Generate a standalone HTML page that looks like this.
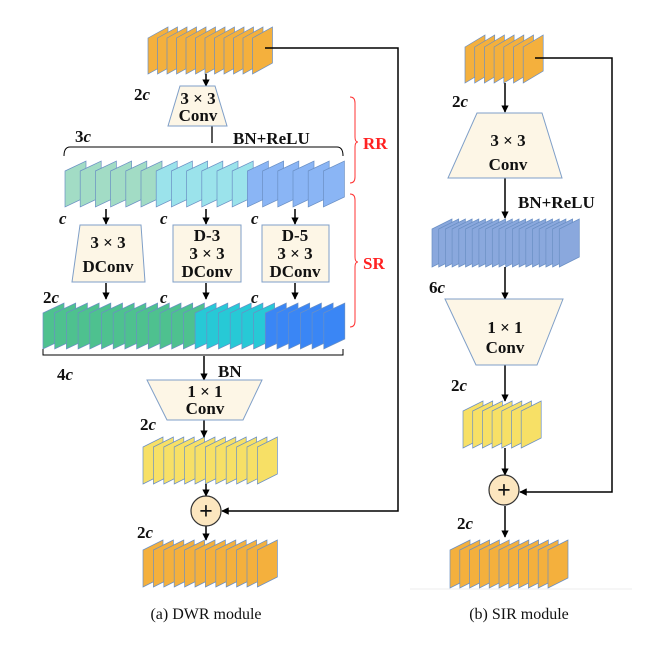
<!DOCTYPE html>
<html><head><meta charset="utf-8"><style>
html,body{margin:0;padding:0;background:#fff;width:648px;height:650px;overflow:hidden}
svg{display:block}
text{font-family:"Liberation Serif",serif;font-weight:bold;fill:#111}
</style></head><body>
<svg id="s" width="648" height="650" viewBox="0 0 648 650" xmlns="http://www.w3.org/2000/svg">
<defs><marker id="a" viewBox="0 0 10 10" refX="9" refY="5" markerWidth="5" markerHeight="5" orient="auto"><path d="M0,0L10,5L0,10z" fill="#000"/></marker></defs>
<g id="sheets"></g>
<g fill="none" stroke="#000" stroke-width="1.5">
<line x1="206" y1="74" x2="206" y2="86" marker-end="url(#a)"/>
<line x1="212" y1="126" x2="212" y2="143" stroke-width="1.3"/>
<path d="M64,156 Q64,147 70,147 L337,147 Q343,147 343,156" stroke-width="1"/>
<line x1="106" y1="209" x2="106" y2="224" marker-end="url(#a)"/>
<line x1="206" y1="209" x2="206" y2="224" marker-end="url(#a)"/>
<line x1="295" y1="209" x2="295" y2="224" marker-end="url(#a)"/>
<line x1="106" y1="283" x2="106" y2="299" marker-end="url(#a)"/>
<line x1="206" y1="283" x2="206" y2="299" marker-end="url(#a)"/>
<line x1="295" y1="283" x2="295" y2="299" marker-end="url(#a)"/>
<path d="M43,349 L43,355 L343,355 L343,349" stroke-width="1"/>
<line x1="204" y1="356" x2="204" y2="380" marker-end="url(#a)"/>
<line x1="204" y1="420" x2="204" y2="437" marker-end="url(#a)"/>
<line x1="206" y1="484" x2="206" y2="496" marker-end="url(#a)"/>
<line x1="206" y1="526" x2="206" y2="540" marker-end="url(#a)"/>
<path d="M265,48 L398,48 L398,511 L222,511" marker-end="url(#a)"/>
<line x1="505" y1="83" x2="505" y2="112" marker-end="url(#a)"/>
<line x1="505" y1="178" x2="505" y2="218" marker-end="url(#a)"/>
<line x1="505" y1="267" x2="505" y2="299" marker-end="url(#a)"/>
<line x1="505" y1="365" x2="505" y2="401" marker-end="url(#a)"/>
<line x1="505" y1="448" x2="505" y2="475" marker-end="url(#a)"/>
<line x1="505" y1="506" x2="505" y2="537" marker-end="url(#a)"/>
<path d="M535,58 L612,58 L612,492 L520,492" marker-end="url(#a)"/>
</g>
<g fill="none" stroke="#f33" stroke-width="1">
<path d="M350,97 Q355,97 355,103 L355,137 Q355,142 358,142 Q355,142 355,147 L355,177 Q355,183 350,183"/>
<path d="M350,194 Q355,194 355,200 L355,257 Q355,262 358,262 Q355,262 355,267 L355,321 Q355,327 350,327"/>
</g>
<line x1="410" y1="589" x2="632" y2="589" stroke="#eee" stroke-width="1"/>
<g fill="#fdf6e6" stroke="#7f9fc8" stroke-width="1">
<polygon points="180,86 215,86 227,126 168,126"/>
<polygon points="80,225 141,225 145,282 72,282"/>
<rect x="173" y="225" width="68" height="57"/>
<rect x="262" y="225" width="67" height="57"/>
<polygon points="147,380 262,380 243,420 167,420"/>
<polygon points="477,113 542,113 562,178 448,178"/>
<polygon points="445,299 563,299 537,365 476,365"/>
</g>
<g fill="#fce6bf" stroke="#333" stroke-width="1.2">
<circle cx="206" cy="511" r="15"/><circle cx="504" cy="490" r="15"/>
</g>
<g font-size="24" text-anchor="middle"><text x="206" y="519">+</text><text x="504" y="498">+</text></g>
<g font-size="17" text-anchor="middle">
<text x="198" y="104">3 × 3</text><text x="198" y="121">Conv</text>
<text x="108" y="248">3 × 3</text><text x="108" y="272">DConv</text>
<text x="207" y="241">D-3</text><text x="207" y="259">3 × 3</text><text x="207" y="277">DConv</text>
<text x="295" y="241">D-5</text><text x="295" y="259">3 × 3</text><text x="295" y="277">DConv</text>
<text x="205" y="397">1 × 1</text><text x="205" y="414">Conv</text>
<text x="508" y="146">3 × 3</text><text x="508" y="170">Conv</text>
<text x="505" y="333">1 × 1</text><text x="505" y="353">Conv</text>
</g>
<g font-size="17">
<text x="134" y="100">2<tspan font-style="italic">c</tspan></text>
<text x="75" y="142">3<tspan font-style="italic">c</tspan></text>
<text x="233" y="144">BN+ReLU</text>
<text x="59" y="224" font-style="italic">c</text>
<text x="160" y="224" font-style="italic">c</text>
<text x="251" y="224" font-style="italic">c</text>
<text x="43" y="303">2<tspan font-style="italic">c</tspan></text>
<text x="160" y="303" font-style="italic">c</text>
<text x="251" y="303" font-style="italic">c</text>
<text x="57" y="380">4<tspan font-style="italic">c</tspan></text>
<text x="218" y="377">BN</text>
<text x="140" y="430">2<tspan font-style="italic">c</tspan></text>
<text x="137" y="538">2<tspan font-style="italic">c</tspan></text>
<text x="452" y="107">2<tspan font-style="italic">c</tspan></text>
<text x="518" y="208">BN+ReLU</text>
<text x="429" y="293">6<tspan font-style="italic">c</tspan></text>
<text x="451" y="391">2<tspan font-style="italic">c</tspan></text>
<text x="457" y="529">2<tspan font-style="italic">c</tspan></text>
<text x="363" y="149" style="fill:#f22">RR</text>
<text x="363" y="269" style="fill:#f22">SR</text>
</g>
<g font-size="16" text-anchor="middle">
<text x="206" y="619" style="font-weight:normal">(a) DWR module</text>
<text x="519" y="619" style="font-weight:normal">(b) SIR module</text>
</g>
</svg>
<script>
var g=document.getElementById('sheets'),NS='http://www.w3.org/2000/svg';
function stack(x0,step,n,yTop,h,w,sk,colors){
 for(var i=0;i<n;i++){var x=x0+i*step,c=colors(i);
  var p=document.createElementNS(NS,'polygon');
  p.setAttribute('points',[x,yTop+sk, x+w,yTop, x+w,yTop+h, x,yTop+h+sk].join(' '));
  p.setAttribute('fill',c);p.setAttribute('stroke','#6a8fc4');p.setAttribute('stroke-width','0.7');
  g.appendChild(p);}
}
function k(c){return function(){return c}}
stack(148,9.5,12,27,36,20,11,k('#f4b03d'));
stack(65,15.2,18,161,36,21,10,function(i){return i<6?'#a2dcc5':i<12?'#9be3eb':'#8ab5f5'});
stack(43,11.7,25,303,36,21,10,function(i){return i<13?'#4ec18f':i<19?'#27c9d6':'#3a86f5'});
stack(143,10.4,12,437,37,20,10,k('#f7e066'));
stack(143,10.4,12,540,37,20,10,k('#f4b03d'));
stack(465,9.7,7,35,36,20,12,k('#f4b03d'));
stack(432,6.7,20,219,38,20,10,k('#8aa8dd'));
stack(463,9.7,7,401,37,20,10,k('#f7e066'));
stack(450,9.8,11,540,38,20,10,k('#f4b03d'));
</script>
</body></html>
